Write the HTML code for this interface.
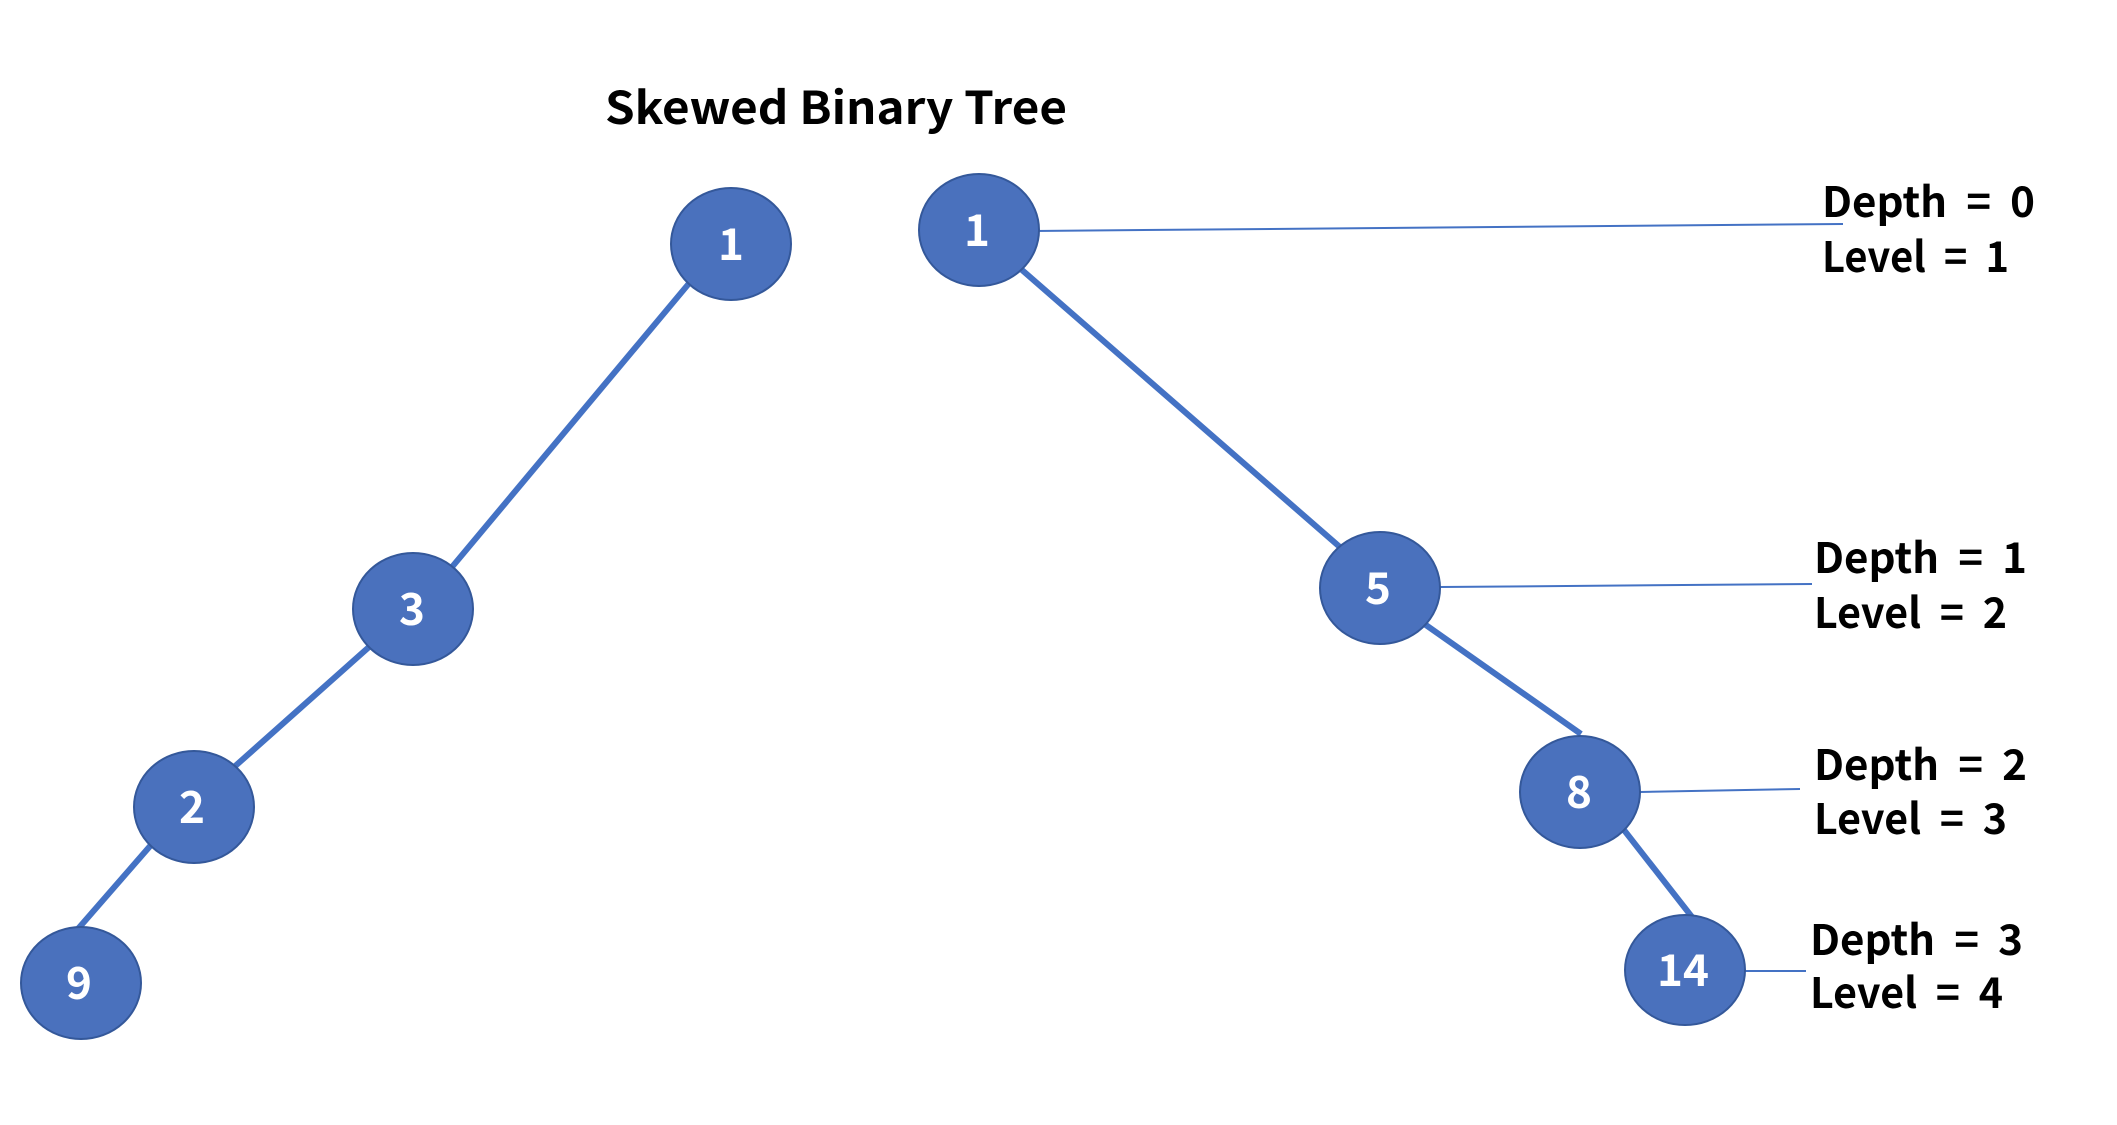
<!DOCTYPE html>
<html><head><meta charset="utf-8"><style>
html,body{margin:0;padding:0;background:#fff;}
svg{display:block;}
text{font-family:"Noto Sans CJK KR","Liberation Sans",sans-serif;font-weight:bold;}
</style></head><body>
<svg width="2117" height="1125" viewBox="0 0 2117 1125" xmlns="http://www.w3.org/2000/svg">
<text x="605" y="124" font-size="45" fill="#000" textLength="462" lengthAdjust="spacingAndGlyphs">Skewed Binary Tree</text>
<g stroke="#4472C4" stroke-width="6" stroke-linecap="butt">
<line x1="691" y1="281" x2="452" y2="567"/>
<line x1="369" y1="647" x2="233" y2="768"/>
<line x1="151" y1="845" x2="77" y2="930"/>
<line x1="1022" y1="270" x2="1341" y2="548"/>
<line x1="1423" y1="623" x2="1581" y2="734"/>
<line x1="1624" y1="830" x2="1692" y2="917"/>
</g>
<g stroke="#4472C4" stroke-width="2">
<line x1="1034" y1="231" x2="1843" y2="224"/>
<line x1="1440" y1="587" x2="1812" y2="584"/>
<line x1="1640" y1="792" x2="1800" y2="789"/>
<line x1="1745" y1="971" x2="1806" y2="971"/>
</g>
<g fill="#4A71BD" stroke="#34589A" stroke-width="2">
<ellipse cx="731" cy="244" rx="60" ry="56"/>
<ellipse cx="413" cy="609" rx="60" ry="56"/>
<ellipse cx="194" cy="807" rx="60" ry="56"/>
<ellipse cx="81" cy="983" rx="60" ry="56"/>
<ellipse cx="979" cy="230" rx="60" ry="56"/>
<ellipse cx="1380" cy="588" rx="60" ry="56"/>
<ellipse cx="1580" cy="792" rx="60" ry="56"/>
<ellipse cx="1685" cy="970" rx="60" ry="55"/>
</g>
<g fill="#fff" font-size="44" text-anchor="middle">
<text x="731" y="260">1</text>
<text x="412" y="625">3</text>
<text x="192" y="823">2</text>
<text x="79" y="999">9</text>
<text x="977" y="246">1</text>
<text x="1378" y="604">5</text>
<text x="1579" y="808">8</text>
<text x="1683" y="986">14</text>
</g>
<g fill="#000" font-size="42">
<text x="1822" y="217" textLength="213" lengthAdjust="spacingAndGlyphs" xml:space="preserve">Depth  =  0</text>
<text x="1822" y="272" textLength="187" lengthAdjust="spacingAndGlyphs" xml:space="preserve">Level  =  1</text>
<text x="1814" y="573" textLength="213" lengthAdjust="spacingAndGlyphs" xml:space="preserve">Depth  =  1</text>
<text x="1814" y="628" textLength="193" lengthAdjust="spacingAndGlyphs" xml:space="preserve">Level  =  2</text>
<text x="1814" y="780" textLength="213" lengthAdjust="spacingAndGlyphs" xml:space="preserve">Depth  =  2</text>
<text x="1814" y="834" textLength="193" lengthAdjust="spacingAndGlyphs" xml:space="preserve">Level  =  3</text>
<text x="1810" y="955" textLength="213" lengthAdjust="spacingAndGlyphs" xml:space="preserve">Depth  =  3</text>
<text x="1810" y="1008" textLength="193" lengthAdjust="spacingAndGlyphs" xml:space="preserve">Level  =  4</text>
</g>
</svg>
</body></html>
